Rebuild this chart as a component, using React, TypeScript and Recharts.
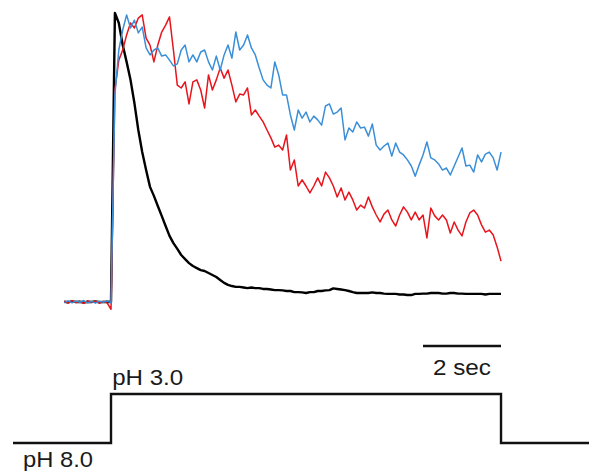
import React from "react";
import { LineChart, Line, XAxis, YAxis, ReferenceLine, ReferenceDot } from "recharts";

// Sampling of the fluorescence traces (seconds), stimulus onset at t = 0
const TIME_STEP = 0.1;
const PRE_SAMPLES = 12;

// Normalised fluorescence (% of black peak), one value per sample from t = -1.2 s to t = 10 s
const blackValues = [
  0.1, -0.1, 0.2, 0, 0.1, -0.2, 0.1, 0, 0.2, -0.1, 0, 0.1, 0,
  99.7, 96.2, 88.6, 82.8, 76.6, 68.6, 59.3, 51.7, 45.5, 39.7,
  36.6, 33.1, 29.7, 26.2, 22.8, 20.3, 18.3, 16.2, 14.8, 13.4,
  12.4, 11.7, 11.0, 10.7, 10.0, 9.3, 8.6, 7.6, 6.6, 5.9,
  5.5, 5.2, 5.2, 5.0, 4.8, 5.0, 4.8, 4.8, 4.5, 4.5,
  4.3, 4.1, 4.1, 4.0, 3.8, 3.8, 3.4, 3.4, 3.3, 3.1,
  3.4, 3.4, 3.8, 3.8, 4.0, 4.1, 4.7, 4.5, 4.3, 4.1,
  3.8, 3.4, 3.1, 3.1, 3.1, 3.1, 3.3, 3.1, 3.1, 2.9,
  2.8, 2.8, 2.8, 2.6, 2.6, 2.4, 2.4, 2.8, 2.8, 2.9,
  2.9, 3.1, 3.1, 3.1, 2.9, 2.9, 3.1, 3.1, 2.9, 2.9,
  2.8, 2.8, 2.8, 2.8, 2.8, 2.6, 2.8, 2.8, 2.8, 2.8,
];

const redValues = [
  0.3, -0.4, 0.5, -0.2, 0.2, -0.5, 0.4, -0.1, 0.3, -0.4, 0.2, -0.3, -2.5,
  73.1, 83.4, 86.9, 92.1, 96.2, 94.5, 97.9, 99.0, 91.0, 88.6,
  82.8, 88.6, 93.1, 95.5, 98.3, 86.9, 74.8, 73.8, 75.9, 68.3,
  75.9, 76.6, 73.1, 66.9, 78.3, 73.1, 76.6, 80.7, 77.2, 80.0,
  74.8, 69.0, 71.7, 71.4, 73.8, 64.5, 66.2, 64.1, 62.1, 59.3,
  56.6, 53.4, 54.1, 52.4, 57.6, 45.5, 49.0, 40.0, 42.1, 40.0,
  37.6, 40.0, 42.8, 40.0, 44.8, 42.8, 40.0, 36.2, 39.3, 35.2,
  37.9, 35.2, 31.7, 33.4, 32.4, 36.2, 32.8, 30.0, 27.6, 30.3,
  31.7, 28.3, 26.2, 30.0, 32.8, 31.0, 28.3, 31.0, 28.3, 30.0,
  22.1, 32.4, 29.7, 28.3, 30.0, 28.3, 23.8, 27.6, 24.8, 22.8,
  27.6, 30.7, 31.7, 30.0, 26.6, 24.1, 24.8, 23.1, 19.0, 14.1,
];

const blueValues = [
  -0.2, 0.4, -0.3, 0.3, -0.1, 0.5, -0.3, 0.2, -0.4, 0.3, -0.1, 0.4, -0.3,
  71.4, 86.9, 93.8, 99.0, 94.5, 97.2, 92.8, 94.8, 87.6, 85.2,
  86.9, 87.6, 84.8, 85.2, 83.4, 81.4, 82.1, 86.9, 88.6, 82.8,
  85.2, 82.8, 86.2, 86.9, 82.8, 80.0, 84.8, 80.0, 85.2, 88.6,
  84.1, 93.1, 86.9, 88.6, 92.1, 87.6, 85.2, 80.7, 76.6, 74.8,
  73.8, 82.8, 78.3, 71.4, 71.4, 64.5, 59.3, 66.2, 63.4, 65.5,
  62.1, 64.1, 62.8, 61.0, 67.6, 68.3, 64.8, 65.5, 66.9, 55.9,
  60.0, 58.6, 62.1, 60.0, 60.3, 57.2, 61.4, 54.1, 52.4, 53.8,
  54.8, 50.3, 54.8, 51.7, 50.7, 49.0, 46.9, 43.4, 47.2, 50.7,
  55.2, 49.7, 49.0, 47.6, 45.5, 46.2, 43.8, 46.9, 50.0, 53.1,
  46.9, 47.2, 44.8, 50.7, 48.3, 51.0, 51.7, 49.7, 45.5, 51.7,
];

// Stimulus protocol: pH 8.0 -> pH 3.0 for 10 s -> pH 8.0
const phTimes = [-2.513, 0, 0, 10, 10, 12.256];
const phValues = [8, 8, 3, 3, 8, 8];

// Scale bar: 2 sec
const scaleBarTimes = [8, 10];
const scaleBarLabel = "2 sec";
const phHighLabel = "pH 3.0";
const phLowLabel = "pH 8.0";

const toSeries = (vals: number[]) =>
  vals.map((v, i) => ({ t: Math.round((i - PRE_SAMPLES) * TIME_STEP * 100) / 100, v }));

const blackData = toSeries(blackValues);
const redData = toSeries(redValues);
const blueData = toSeries(blueValues);
const phData = phTimes.map((t, i) => ({ t, v: phValues[i] }));

const FONT = "'Liberation Sans', Arial, Helvetica, sans-serif";

const makeText = (text: string, len: number) => (props: any) => (
  <text
    x={props.cx}
    y={props.cy}
    fontFamily={FONT}
    fontSize={22}
    fill="#1a1a1a"
    textLength={len}
    lengthAdjust="spacingAndGlyphs"
  >
    {text}
  </text>
);

export default function App() {
  return (
    <div style={{ position: "absolute", left: 0, top: 0, width: 589, height: 471, background: "#fff" }}>
      <LineChart width={589} height={471} margin={{ top: 0, right: 0, bottom: 0, left: 13 }}>
        <XAxis dataKey="t" type="number" domain={[-2.513, 12.256]} hide allowDataOverflow />
        <YAxis yAxisId="f" type="number" domain={[-58.28, 104.14]} hide allowDataOverflow width={0} />
        <YAxis yAxisId="ph" type="number" domain={[-37.2, 10.857]} reversed hide allowDataOverflow width={0} />
        <Line yAxisId="ph" data={phData} dataKey="v" type="linear" stroke="#111" strokeWidth={2.4} dot={false} isAnimationActive={false} />
        <Line yAxisId="f" data={blackData} dataKey="v" type="linear" stroke="#000" strokeWidth={2.4} strokeLinejoin="round" dot={false} isAnimationActive={false} />
        <Line yAxisId="f" data={redData} dataKey="v" type="linear" stroke="#e8141c" strokeWidth={1.5} strokeLinejoin="round" dot={false} isAnimationActive={false} />
        <Line yAxisId="f" data={blueData} dataKey="v" type="linear" stroke="#3a8fd8" strokeWidth={1.5} strokeLinejoin="round" dot={false} isAnimationActive={false} />
        <ReferenceLine
          yAxisId="ph"
          segment={[{ x: scaleBarTimes[0], y: -1.9 }, { x: scaleBarTimes[1], y: -1.9 }]}
          stroke="#111"
          strokeWidth={2.4}
        />
        <ReferenceDot yAxisId="ph" x={0.03} y={2.08} r={0} shape={makeText(phHighLabel, 71)} />
        <ReferenceDot yAxisId="ph" x={-2.256} y={10.45} r={0} shape={makeText(phLowLabel, 70)} />
        <ReferenceDot yAxisId="ph" x={8.256} y={1.06} r={0} shape={makeText(scaleBarLabel, 58)} />
      </LineChart>
    </div>
  );
}
